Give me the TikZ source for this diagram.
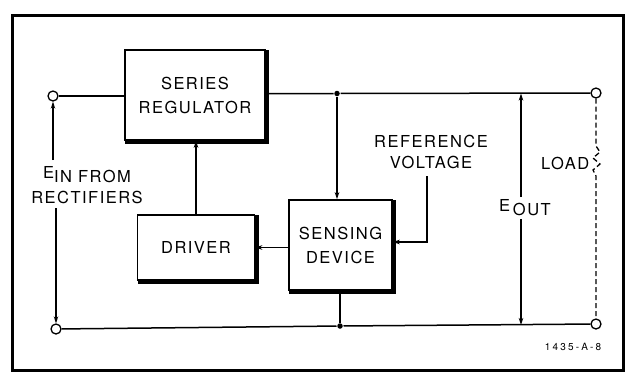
\documentclass[tikz,border=0pt]{standalone}
\usepackage{fontspec}
\setmainfont[LetterSpace=9]{TeX Gyre Heros}
\usetikzlibrary{arrows.meta}
\tikzset{
  blk/.style={draw, line width=1.5pt, align=center, inner sep=0pt, fill=white,
    font=\fontsize{16.5}{24}\selectfont},
  lbl/.style={align=center, inner sep=0pt, font=\fontsize{16.5}{21}\selectfont},
  term/.style={circle, draw, fill=white, inner sep=0pt, minimum size=10pt, line width=1.3pt},
  jdot/.style={circle, fill, inner sep=0pt, minimum size=5.5pt},
  arr/.style={-{Stealth[length=7pt,width=4.5pt]}},
  shade/.style={line width=4pt, line cap=butt},
}
\begin{document}
\begin{tikzpicture}[x=1pt,y=-1pt,line width=1.5pt]
\useasboundingbox (0,0) rectangle (630,376);
\draw[line width=3pt] (12,15) rectangle (623,370);

% blocks
\node[blk, minimum width=140pt, minimum height=90pt] (ser) at (195,95) {SERIES\\REGULATOR};
\node[blk, minimum width=117pt, minimum height=65pt] (drv) at (196,247.5) {DRIVER};
\node[blk, minimum width=103pt, minimum height=90pt] (sen) at (340.5,245) {SENSING\\DEVICE};
\foreach \b in {ser,drv,sen}{
  \draw[shade] ([xshift=1.5pt,yshift=-1pt]\b.north east) -- ([xshift=1.5pt,yshift=-1.5pt]\b.south east) -- ([xshift=1pt,yshift=-1.5pt]\b.south west);
}

% terminals
\node[term] (tl) at (53,96) {};
\node[term] (bl) at (56,329) {};
\node[term] (tr) at (596,93) {};
\node[term] (br) at (596,324) {};
\node[jdot] (j1) at (337,93.5) {};
\node[jdot] (j2) at (340,326) {};
\coordinate (eo1) at (521,93.5);
\coordinate (eo2) at (521,325);

% main lines
\draw (tl) -- (ser.west |- tl);
\draw (ser.east |- j1) -- (j1) -- (tr);
\draw (bl) -- (j2) -- (br);
\draw (sen.south -| j2) -- (j2);

% feedback arrows
\draw[arr] (j1) -- (j1 |- sen.north);
\draw[arr] (sen.west |- drv) -- (drv.east);
\draw[arr] (drv.north) -- (drv.north |- ser.south);

% reference voltage
\node[lbl] (ref) at (431,152) {REFERENCE\\VOLTAGE};
\coordinate (rc) at (427,242);
\draw[arr] (427,176) -- (rc) -- (sen.east |- rc);

% E in
\node[lbl] (ein) at (87,185) {\raisebox{4pt}{E}IN FROM\\RECTIFIERS};
\coordinate (ea) at (53,160);
\coordinate (eb) at (56,208);
\draw[arr] (ea) -- (tl);
\draw[arr] (eb) -- (bl);

% E out
\node[lbl] (eout) at (525,208) {\raisebox{4pt}{E}\,OUT};
\draw[arr] (eout.north -| eo1) ++(0,-2) -- (eo1);
\draw[arr] (eout.south -| eo2) ++(0,2) -- (eo2);

% load
\draw[dashed, line width=1.3pt, dash pattern=on 5pt off 3pt]
  (tr) -- (596,146) -- (600,152) -- (593,158) -- (600,164) -- (593,170) -- (596,176) -- (br);
\node[lbl, anchor=east] (load) at (590,163) {LOAD};

\node[inner sep=0pt, font=\fontsize{10}{12}\selectfont\addfontfeature{LetterSpace=22}] (id) at (573,347) {1435-A-8};
\end{tikzpicture}
\end{document}
